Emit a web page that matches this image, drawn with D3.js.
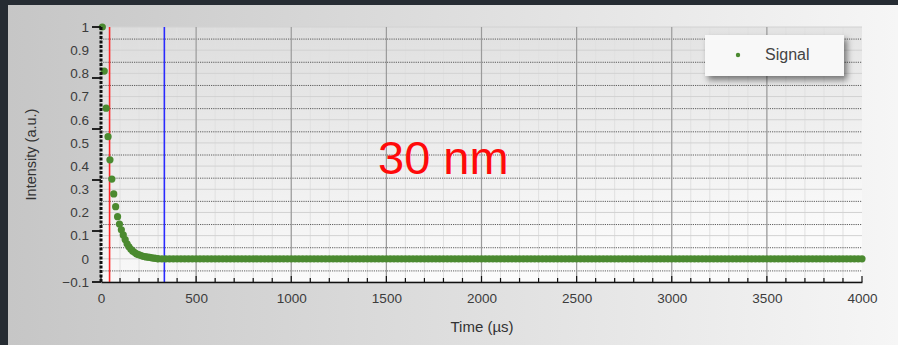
<!DOCTYPE html>
<html>
<head>
<meta charset="utf-8">
<script src="https://cdn.jsdelivr.net/npm/d3@7"></script>
<style>
  html, body { margin: 0; padding: 0; background: #262c33; }
  svg { display: block; font-family: "Liberation Sans", Arial, sans-serif; }
</style>
</head>
<body>
<script>
// decay part, sampled every 10 us starting at 7 us
var decayStart = 7
var decayStep = 10
var decayValues = [1.0, 0.81, 0.65, 0.527, 0.427, 0.344, 0.28, 0.225, 0.182, 0.15,
  0.125, 0.103, 0.083, 0.065, 0.052, 0.041, 0.033, 0.027, 0.021, 0.018,
  0.015, 0.012, 0.010, 0.008, 0.007, 0.006, 0.004, 0.003, 0.002, 0.001]
// flat tail, sampled every 20 us from 300 us
var tailStart = 300
var tailStep = 20
var tailValues = [
  0, 0, 0, 0, 0, 0, 0, 0, 0, 0, 0, 0, 0, 0, 0, 0, 0, 0, 0, 0,
  0, 0, 0, 0, 0, 0, 0, 0, 0, 0, 0, 0, 0, 0, 0, 0, 0, 0, 0, 0,
  0, 0, 0, 0, 0, 0, 0, 0, 0, 0, 0, 0, 0, 0, 0, 0, 0, 0, 0, 0,
  0, 0, 0, 0, 0, 0, 0, 0, 0, 0, 0, 0, 0, 0, 0, 0, 0, 0, 0, 0,
  0, 0, 0, 0, 0, 0, 0, 0, 0, 0, 0, 0, 0, 0, 0, 0, 0, 0, 0, 0,
  0, 0, 0, 0, 0, 0, 0, 0, 0, 0, 0, 0, 0, 0, 0, 0, 0, 0, 0, 0,
  0, 0, 0, 0, 0, 0, 0, 0, 0, 0, 0, 0, 0, 0, 0, 0, 0, 0, 0, 0,
  0, 0, 0, 0, 0, 0, 0, 0, 0, 0, 0, 0, 0, 0, 0, 0, 0, 0, 0, 0,
  0, 0, 0, 0, 0, 0, 0, 0, 0, 0, 0, 0, 0, 0, 0, 0, 0, 0, 0, 0,
  0, 0, 0, 0, 0, 0]

var xTickValues = [0, 500, 1000, 1500, 2000, 2500, 3000, 3500, 4000]
var yTickValues = [1, 0.9, 0.8, 0.7, 0.6, 0.5, 0.4, 0.3, 0.2, 0.1, 0, -0.1]
var yMajorTicks = [1, 0.78, 0.56, 0.34, 0.12, -0.1]
var cursorRed = 45
var cursorBlue = 333
var legendLabel = 'Signal'
var noteText = '30 nm'

var W = 898, H = 345
var mLeft = 101, mRight = 862, mTop = 27, mBottom = 282

var points = decayValues.map(function (v, i) { return { t: decayStart + i * decayStep, v: v } })
  .concat(tailValues.map(function (v, i) { return { t: tailStart + i * tailStep, v: v } }))

var x = d3.scaleLinear().domain([0, 4000]).range([mLeft, mRight])
var y = d3.scaleLinear().domain([-0.1, 1]).range([mBottom, mTop])

var svg = d3.select('body').append('svg').attr('width', W).attr('height', H)
var defs = svg.append('defs')

var bg = defs.append('linearGradient').attr('id', 'bg').attr('x1', 0).attr('x2', 1).attr('y1', 0).attr('y2', 0)
bg.append('stop').attr('offset', '0%').attr('stop-color', '#c6c6c6')
bg.append('stop').attr('offset', '100%').attr('stop-color', '#f6f6f6')

var pg = defs.append('linearGradient').attr('id', 'plotbg').attr('x1', 0).attr('x2', 0.3).attr('y1', 0).attr('y2', 1)
pg.append('stop').attr('offset', '0%').attr('stop-color', '#dcdcdc')
pg.append('stop').attr('offset', '100%').attr('stop-color', '#fbfbfb')

var sh = defs.append('filter').attr('id', 'shadow').attr('x', '-20%').attr('y', '-30%').attr('width', '150%').attr('height', '180%')
sh.append('feDropShadow').attr('dx', 3).attr('dy', 4).attr('stdDeviation', 3)
  .attr('flood-color', '#000').attr('flood-opacity', 0.5)

// frame
svg.append('rect').attr('x', 8).attr('y', 5).attr('width', W - 8).attr('height', H - 5).attr('fill', 'url(#bg)')
svg.append('rect').attr('x', mLeft).attr('y', mTop).attr('width', mRight - mLeft).attr('height', mBottom - mTop)
  .attr('fill', 'url(#plotbg)')

var grid = svg.append('g')

// minor vertical grid every 100
grid.selectAll('.vminor').data(d3.range(100, 4000, 100))
  .enter().append('line')
  .attr('x1', function (d) { return x(d) }).attr('x2', function (d) { return x(d) })
  .attr('y1', mTop).attr('y2', mBottom)
  .attr('stroke', '#e0e0e0').attr('stroke-width', 1)

// light horizontal lines
grid.selectAll('.hlight').data(yTickValues)
  .enter().append('line')
  .attr('x1', mLeft).attr('x2', mRight)
  .attr('y1', function (d) { return y(d) }).attr('y2', function (d) { return y(d) })
  .attr('stroke', '#d2d2d2').attr('stroke-width', 1)

// dotted horizontal lines between ticks
grid.selectAll('.hdot').data(yTickValues.slice(0, -1))
  .enter().append('line')
  .attr('x1', mLeft).attr('x2', mRight)
  .attr('y1', function (d) { return y(d - 0.05) + 0.5 }).attr('y2', function (d) { return y(d - 0.05) + 0.5 })
  .attr('stroke', '#444').attr('stroke-width', 1).attr('stroke-dasharray', '1.2,1')
  .attr('opacity', 0.85)

// major vertical grid
grid.selectAll('.vmajor').data(xTickValues.slice(1, -1))
  .enter().append('line')
  .attr('x1', function (d) { return x(d) }).attr('x2', function (d) { return x(d) })
  .attr('y1', mTop).attr('y2', mBottom)
  .attr('stroke', '#9a9a9a').attr('stroke-width', 1.2)

// cursors
svg.append('line').attr('x1', x(cursorRed)).attr('x2', x(cursorRed)).attr('y1', mTop).attr('y2', mBottom)
  .attr('stroke', '#ff2a2a').attr('stroke-width', 1.6)
svg.append('line').attr('x1', x(cursorBlue)).attr('x2', x(cursorBlue)).attr('y1', mTop).attr('y2', mBottom)
  .attr('stroke', '#2a2aff').attr('stroke-width', 1.6)

// signal
svg.append('g').selectAll('circle').data(points)
  .enter().append('circle')
  .attr('cx', function (d) { return x(d.t) })
  .attr('cy', function (d) { return y(d.v) })
  .attr('r', 3.6)
  .attr('fill', '#4b8a30')

// bottom axis with ticks every 100
var xa = svg.append('g').attr('transform', 'translate(0,' + mBottom + ')')
  .call(d3.axisBottom(x).tickValues(xTickValues).tickSize(0).tickPadding(11).tickFormat(d3.format('d')))
xa.select('.domain').attr('stroke', '#111').attr('stroke-width', 1.5)
xa.selectAll('text').attr('fill', '#3c3c3c').attr('font-size', 13.5)
xa.selectAll('.minor').data(d3.range(0, 4001, 100))
  .enter().append('line').attr('class', 'minor')
  .attr('x1', function (d) { return x(d) }).attr('x2', function (d) { return x(d) })
  .attr('y1', 0).attr('y2', function (d) { return d % 500 === 0 ? -6 : -4 })
  .attr('stroke', '#111').attr('stroke-width', 1.2)

// left axis: dashed thick line with major ticks
var ya = svg.append('g').attr('transform', 'translate(' + mLeft + ',0)')
  .call(d3.axisLeft(y).tickValues(yTickValues).tickSize(0).tickPadding(12)
    .tickFormat(function (d) { return d3.format('')(+d.toFixed(1)) }))
ya.select('.domain').remove()
ya.selectAll('text').attr('fill', '#3c3c3c').attr('font-size', 13.5)
ya.append('line').attr('x1', 0).attr('x2', 0).attr('y1', mTop).attr('y2', mBottom)
  .attr('stroke', '#111').attr('stroke-width', 3).attr('stroke-dasharray', '3,1.5')
ya.selectAll('.major').data(yMajorTicks)
  .enter().append('line').attr('class', 'major')
  .attr('x1', -9).attr('x2', 0)
  .attr('y1', function (d) { return y(d) }).attr('y2', function (d) { return y(d) })
  .attr('stroke', '#111').attr('stroke-width', 1.8)

// axis titles
svg.append('text').attr('x', 482).attr('y', 332)
  .attr('text-anchor', 'middle').attr('font-size', 15).attr('fill', '#333')
  .text('Time (\u00b5s)')
svg.append('text').attr('transform', 'translate(36,' + ((mTop + mBottom) / 2) + ') rotate(-90)')
  .attr('text-anchor', 'middle').attr('font-size', 14.5).attr('fill', '#333')
  .text('Intensity (a.u.)')

// annotation
svg.append('text').attr('x', 378).attr('y', 174).attr('font-size', 47).attr('fill', '#ff0a0a')
  .text(noteText)

// legend
var lg = svg.append('g').attr('transform', 'translate(705,35)')
lg.append('rect').attr('width', 139).attr('height', 41).attr('fill', '#f8f8f8').attr('filter', 'url(#shadow)')
lg.append('circle').attr('cx', 33).attr('cy', 20).attr('r', 2.2).attr('fill', '#4b8a30')
lg.append('text').attr('x', 60).attr('y', 25).attr('font-size', 16).attr('fill', '#444').text(legendLabel)
</script>
</body>
</html>
